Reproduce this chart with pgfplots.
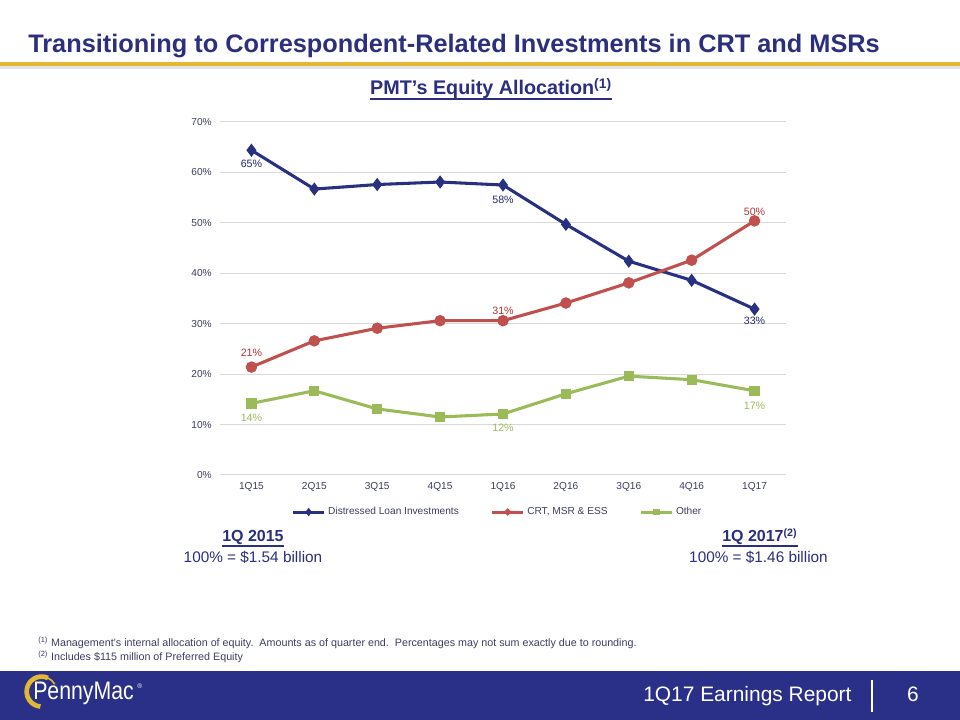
\documentclass[border=0pt]{standalone}
\usepackage{fontspec}
\setmainfont{Liberation Sans}
\newfontfamily\narrowfont[FakeStretch=0.84]{Liberation Sans}
\usepackage{pgfplots}
\pgfplotsset{compat=1.18}
\definecolor{titlenavy}{RGB}{43,47,125}
\definecolor{footnavy}{RGB}{42,48,135}
\definecolor{gold}{RGB}{225,184,52}
\definecolor{lineblue}{RGB}{40,48,130}
\definecolor{linered}{RGB}{192,80,77}
\definecolor{labred}{RGB}{180,50,50}
\definecolor{linegreen}{RGB}{155,187,89}
\definecolor{tickcol}{RGB}{60,62,95}
\definecolor{gridcol}{RGB}{217,217,217}
\definecolor{footcol}{RGB}{60,62,100}

\pgfplotstableread{
x dist crt other
0 64.4 21.4 14.2
1 56.7 26.6 16.7
2 57.6 29.1 13.1
3 58.1 30.6 11.5
4 57.5 30.6 12.1
5 49.7 34.1 16.1
6 42.4 38.1 19.6
7 38.6 42.6 18.9
8 32.9 50.4 16.7
}\datatable

\begin{document}
\begin{tikzpicture}[x=0.75pt,y=0.75pt]
\useasboundingbox (0,0) rectangle (960,720);
\fill[white] (0,0) rectangle (960,720);
% title
\node[anchor=base west, inner sep=0, text=titlenavy, font=\fontsize{19}{21}\selectfont\bfseries] at (28,667.3) {Transitioning to Correspondent-Related Investments in CRT and MSRs};
% gold bar with shadow
\fill[gray!22] (0,650.5) rectangle (960,654);
\fill[gold] (0,654) rectangle (960,657.5);
% subtitle
\node[anchor=base, inner sep=0, text=titlenavy, font=\fontsize{14.8}{17}\selectfont\bfseries] (sub) at (491,625) {PMT’s Equity Allocation\textsuperscript{(1)}};
\draw[titlenavy, line width=1.2pt] ([yshift=-3pt]sub.base west) -- ([yshift=-3pt]sub.base east);

\begin{axis}[
  at={(165pt,183.75pt)}, anchor=south west,
  scale only axis, width=424.5pt, height=264.75pt,
  xmin=-0.5, xmax=8.5, ymin=0, ymax=70,
  ytick={0,10,...,70},
  yticklabel={\pgfmathprintnumber{\tick}\%},
  xtick={0,...,8},
  xticklabels={1Q15,2Q15,3Q15,4Q15,1Q16,2Q16,3Q16,4Q16,1Q17},
  axis line style={draw=none},
  major tick length=0pt,
  ymajorgrids, grid style={gridcol, line width=0.75pt},
  /pgf/number format/assume math mode=true,
  ticklabel style={font=\fontsize{7.6}{9}\selectfont, text=tickcol},
  yticklabel style={anchor=east, inner sep=0pt, xshift=-6pt},
  xticklabel style={anchor=center, inner sep=0pt, yshift=-9pt},
  clip=false,
  legend columns=3,
  legend style={at={(0.491,-0.105)}, anchor=center, draw=none, fill=none,
    font=\fontsize{7.6}{9}\selectfont, text=tickcol,
    /tikz/every even column/.append style={column sep=22pt},
    inner sep=0pt},
  legend image code/.code={\draw[mark repeat=2, mark phase=2, mark size=1.3pt] plot coordinates {(0pt,0pt) (11.5pt,0pt) (23pt,0pt)};},
]
\addplot[lineblue, line width=2.3pt, mark=diamond*, mark size=3.1pt] table[x=x, y=dist] {\datatable};
\addlegendentry{Distressed Loan Investments}
\addplot[linered, line width=2.3pt, mark=*, mark size=3.1pt] table[x=x, y=crt] {\datatable};
\addlegendentry{CRT, MSR \& ESS}
\addplot[linegreen, line width=2.3pt, mark=square*, mark size=2.7pt] table[x=x, y=other] {\datatable};
\addlegendentry{Other}

\begin{scope}[every node/.style={font=\fontsize{8}{9}\selectfont, inner sep=0pt}]
\node[text=lineblue!85!black] at (axis cs:0,64.4) [yshift=-10.5pt] {65\%};
\node[text=lineblue!85!black] at (axis cs:4,57.5) [yshift=-11pt] {58\%};
\node[text=lineblue!85!black] at (axis cs:8,32.9) [yshift=-8.5pt] {33\%};
\node[text=labred] at (axis cs:0,21.4) [yshift=10.5pt] {21\%};
\node[text=labred] at (axis cs:4,30.6) [yshift=7.5pt] {31\%};
\node[text=labred] at (axis cs:8,50.4) [yshift=7pt] {50\%};
\node[text=linegreen] at (axis cs:0,14.2) [yshift=-11pt] {14\%};
\node[text=linegreen] at (axis cs:4,12.1) [yshift=-10.5pt] {12\%};
\node[text=linegreen] at (axis cs:8,16.7) [yshift=-11pt] {17\%};
\end{scope}
\end{axis}

% period captions
\node[anchor=base west, inner sep=0, text=titlenavy, font=\fontsize{12}{14}\selectfont\bfseries] (p1) at (222,178) {1Q 2015};
\draw[titlenavy, line width=1pt] ([yshift=-3pt]p1.base west) -- ([yshift=-3pt]p1.base east);
\node[anchor=base, inner sep=0, text=titlenavy, font=\fontsize{11.5}{13}\selectfont] at (253,157.3) {100\% = \$1.54 billion};
\node[anchor=base west, inner sep=0, text=titlenavy, font=\fontsize{12}{14}\selectfont\bfseries] (p2) at (722,178) {1Q 2017\textsuperscript{(2)}};
\draw[titlenavy, line width=1pt] ([yshift=-3pt]p2.base west) -- ([yshift=-3pt]p2.base east);
\node[anchor=base, inner sep=0, text=titlenavy, font=\fontsize{11.5}{13}\selectfont] at (758.5,157.3) {100\% = \$1.46 billion};

% footnotes
\node[anchor=base west, inner sep=0, text=footcol, font=\fontsize{8.05}{9}\selectfont] at (38,73.5) {\textsuperscript{(1)} Management’s internal allocation of equity.\ \ Amounts as of quarter end.\ \ Percentages may not sum exactly due to rounding.};
\node[anchor=base west, inner sep=0, text=footcol, font=\fontsize{8.05}{9}\selectfont] at (38,59.5) {\textsuperscript{(2)} Includes \$115 million of Preferred Equity};

% footer
\fill[footnavy] (0,0) rectangle (960,49);
\node[anchor=base west, inner sep=0, text=white, font=\fontsize{15.7}{18}\selectfont] at (643,18) {1Q17 Earnings Report};
\draw[white, line width=1.2pt] (872,8) -- (872,40);
\node[anchor=base, inner sep=0, text=white, font=\fontsize{15.7}{18}\selectfont] at (913,18) {6};
% logo
\draw[gold, line width=3.5pt] (48,42) arc[start angle=65, end angle=265, radius=15];
\draw[gold, line width=1.2pt] (48,42) arc[start angle=65, end angle=30, radius=15];
\node[anchor=base west, inner sep=0, text=white, font=\narrowfont\fontsize{19}{21}\selectfont] at (33,20) {PennyMac};
\node[anchor=base west, inner sep=0, text=white, font=\fontsize{5}{6}\selectfont] at (137,31) {®};
\end{tikzpicture}
\end{document}
